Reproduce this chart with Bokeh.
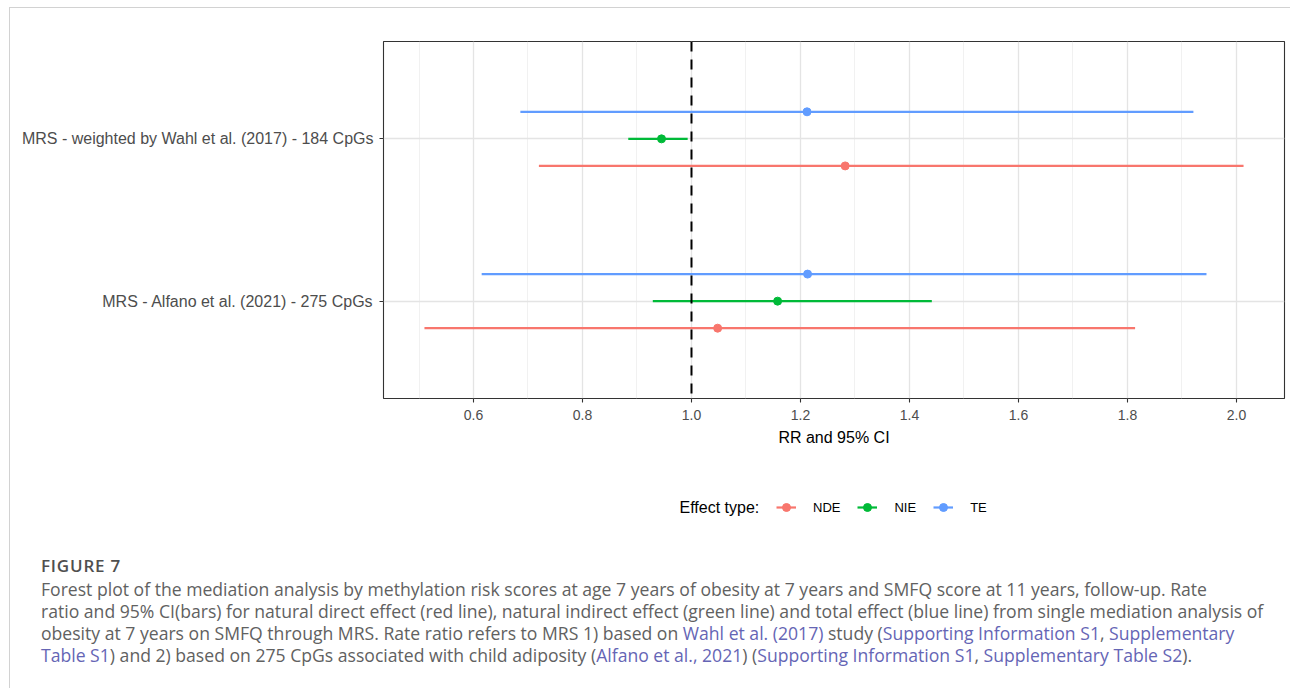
from bokeh.plotting import figure
from bokeh.models import (ColumnDataSource, FactorRange, Range1d, FixedTicker, Span,
                          Legend, LegendItem, Label, Div)
from bokeh.transform import dodge
from bokeh.layouts import column
from bokeh.embed import file_html
from bokeh.resources import INLINE

# ---------------- data ----------------
mrs_labels = ["MRS - weighted by Wahl et al. (2017) - 184 CpGs",
              "MRS - Alfano et al. (2021) - 275 CpGs"]
effect_types = ["NDE", "NIE", "TE"]

nde_rr = [1.282, 1.048]
nde_lo = [0.720, 0.510]
nde_hi = [2.013, 1.814]

nie_rr = [0.945, 1.158]
nie_lo = [0.884, 0.929]
nie_hi = [0.993, 1.441]

te_rr = [1.212, 1.213]
te_lo = [0.686, 0.615]
te_hi = [1.921, 1.945]

x_ticks = [0.6, 0.8, 1.0, 1.2, 1.4, 1.6, 1.8, 2.0]
x_minor = [0.5, 0.7, 0.9, 1.1, 1.3, 1.5, 1.7, 1.9]
null_value = 1.0

colors = {"NDE": "#F8766D", "NIE": "#00BA38", "TE": "#619CFF"}
offsets = {"NDE": -1 / 6, "NIE": 0.0, "TE": 1 / 6}
series = {"NDE": (nde_rr, nde_lo, nde_hi),
          "NIE": (nie_rr, nie_lo, nie_hi),
          "TE": (te_rr, te_lo, te_hi)}

FONT = "Liberation Sans"

# ---------------- main figure ----------------
all_lo = nde_lo + nie_lo + te_lo
all_hi = nde_hi + nie_hi + te_hi
span_x = max(all_hi) - min(all_lo)
x_range = Range1d(min(all_lo) - 0.05 * span_x, max(all_hi) + 0.05 * span_x)
y_range = FactorRange(factors=list(reversed(mrs_labels)), range_padding=0.1)

FW, FH = 1280, 452
p = figure(width=FW, height=FH, x_range=x_range, y_range=y_range,
           output_backend="svg", toolbar_location=None,
           min_border_left=373, min_border_right=6,
           min_border_top=33, min_border_bottom=62)
p.background_fill_color = "white"
p.border_fill_color = "white"
p.outline_line_color = "#333333"
p.outline_line_width = 1.1

# axes
p.xaxis.ticker = FixedTicker(ticks=x_ticks, minor_ticks=x_minor)
p.xaxis.major_label_overrides = {t: f"{t:.1f}" for t in x_ticks}
p.xaxis.axis_label = "RR and 95% CI"
p.xaxis.axis_label_text_font = FONT
p.xaxis.axis_label_text_font_style = "normal"
p.xaxis.axis_label_text_font_size = "16px"
p.xaxis.axis_label_text_color = "black"
p.xaxis.axis_label_standoff = 6
for ax in (p.xaxis, p.yaxis):
    ax.axis_line_color = None
    ax.major_tick_line_color = "#333333"
    ax.major_tick_line_width = 1.1
    ax.major_tick_in = 0
    ax.major_tick_out = 4
    ax.minor_tick_line_color = None
    ax.major_label_text_font = FONT
    ax.major_label_text_color = "#4d4d4d"
p.xaxis.major_label_text_font_size = "14px"
p.xaxis.major_label_standoff = 7
p.yaxis.major_label_text_font_size = "16px"
p.yaxis.major_label_standoff = 6

# grid
p.xgrid.ticker = FixedTicker(ticks=x_ticks, minor_ticks=x_minor)
p.xgrid.grid_line_color = "#e4e4e4"
p.xgrid.grid_line_width = 1.3
p.xgrid.minor_grid_line_color = "#ebebeb"
p.xgrid.minor_grid_line_width = 0.7
p.ygrid.grid_line_color = "#e4e4e4"
p.ygrid.grid_line_width = 1.3

# null line
p.add_layout(Span(location=null_value, dimension="height", line_color="black",
                  line_width=2, line_dash="10 8"))

# ranges & points
for eff in effect_types:
    rr, lo, hi = series[eff]
    src = ColumnDataSource(dict(mrs=mrs_labels, rr=rr, lo=lo, hi=hi))
    yd = dodge("mrs", offsets[eff], range=p.y_range)
    p.segment(x0="lo", x1="hi", y0=yd, y1=yd, source=src,
              line_color=colors[eff], line_width=2.2)
    p.scatter(x="rr", y=yd, source=src, size=8, marker="circle",
              fill_color=colors[eff], line_color=colors[eff])

# ---------------- legend strip ----------------
# (its frame is aligned with the main frame by the column layout)
LH = 80
lg = figure(width=FW, height=LH, x_range=Range1d(0, 1), y_range=Range1d(0, 1),
            output_backend="svg", toolbar_location=None,
            min_border_left=373, min_border_right=6, min_border_top=0, min_border_bottom=0)
lg.axis.visible = False
lg.grid.visible = False
lg.outline_line_color = None
lg.background_fill_color = "white"
lg.border_fill_color = "white"

items = []
for eff in effect_types:
    key_line = lg.segment(x0=[float("nan")], x1=[float("nan")], y0=[float("nan")],
                          y1=[float("nan")], line_color=colors[eff], line_width=2.2)
    key_pt = lg.scatter(x=[float("nan")], y=[float("nan")], size=8, marker="circle",
                        fill_color=colors[eff], line_color=colors[eff])
    items.append(LegendItem(label=eff, renderers=[key_line, key_pt]))

legend = Legend(items=items, orientation="horizontal",
                location=(393, 17), padding=0, spacing=17,
                label_standoff=17, glyph_width=20, glyph_height=32,
                label_height=32, label_text_font_size="13px",
                label_text_font=FONT, label_text_color="black",
                border_line_color=None, background_fill_alpha=0, margin=0)
lg.add_layout(legend, "center")
lg.add_layout(Label(x=296, y=33, x_units="screen", y_units="screen",
                    text="Effect type:", text_baseline="middle", text_align="left",
                    text_font=FONT, text_font_size="16px", text_color="black"))

# ---------------- caption ----------------
link = "color:#6565b5"
caption_lines = [
    "Forest plot of the mediation analysis by methylation risk scores at age 7 years of obesity at 7 years and SMFQ score at 11 years, follow-up. Rate",
    "ratio and 95% CI(bars) for natural direct effect (red line), natural indirect effect (green line) and total effect (blue line) from single mediation analysis of",
    f"obesity at 7 years on SMFQ through MRS. Rate ratio refers to MRS 1) based on <span style='{link}'>Wahl et al. (2017)</span> study (<span style='{link}'>Supporting Information S1</span>, <span style='{link}'>Supplementary</span>",
    f"<span style='{link}'>Table S1</span>) and 2) based on 275 CpGs associated with child adiposity (<span style='{link}'>Alfano et al., 2021</span>) (<span style='{link}'>Supporting Information S1</span>, <span style='{link}'>Supplementary Table S2</span>).",
]
caption_html = (
    "<div style='font-family:\"Open Sans\", Lato, sans-serif; color:#616161; "
    "padding-left:26px; padding-top:13px; white-space:nowrap;'>"
    "<div style='font-size:17px; font-weight:600; line-height:16px; color:#4f4f4f; letter-spacing:0.8px;'>FIGURE 7</div>"
    "<div style='font-size:17.6px; line-height:22px; margin-top:4px;'>"
    + "<br>".join(caption_lines) +
    "</div></div>"
)
caption = Div(text=caption_html, width=FW, height=148)

root = column(p, lg, caption, margin=(7, 0, 0, 9), spacing=0,
              styles={"border-left": "1px solid #d2d2d2",
                      "border-top": "1px solid #d2d2d2"})

open("out.html", "w").write(file_html(root, INLINE))
